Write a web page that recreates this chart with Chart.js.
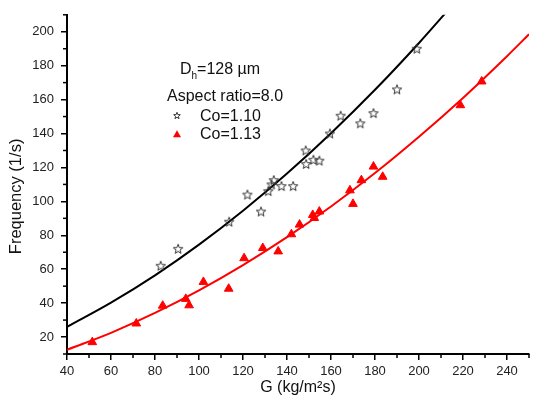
<!DOCTYPE html>
<html>
<head>
<meta charset="utf-8">
<script src="https://cdn.jsdelivr.net/npm/chart.js@4"></script>
<style>
  html, body { margin: 0; padding: 0; background: #fff; }
  #wrap { width: 535px; height: 408px; }
</style>
</head>
<body>
<div id="wrap"><canvas id="freqChart" width="535" height="408"></canvas></div>
<script>
// measured points, Co=1.10 (open stars)
const gCo110 = [82.6, 90.5, 113.7, 122, 128.2, 131.5, 133, 134, 137.5, 142.8, 148.5, 148.7, 152, 154.7, 159.5, 164.4, 173.3, 179.3, 190, 199];
const fCo110 = [62, 72, 88, 104, 94, 106, 110, 112.5, 109, 109, 130, 122, 124.5, 124, 140, 150.5, 146, 152, 166, 190];

// measured points, Co=1.13 (red triangles)
const gCo113 = [51.5, 71.5, 83.5, 94, 95.5, 102, 113.5, 120.5, 129, 136, 142, 145.7, 151.7, 152.4, 154.7, 168.6, 170, 173.8, 179.3, 183.5, 218.8, 228.5];
const fCo113 = [17, 28, 38.5, 42.5, 38.7, 52.5, 48.5, 66.5, 72.5, 70.5, 80.6, 86.3, 92, 90.2, 94, 106.5, 98.5, 112.5, 120.5, 114.5, 156.7, 170.7];

// fitted curves
const fitG110 = [40, 60, 80, 100, 120, 140, 160, 180, 200, 215];
const fitF110 = [26, 40.3, 56.4, 74.5, 94.5, 116.4, 140.2, 165.8, 193.4, 215.4];
const fitG113 = [40, 60, 80, 100, 120, 140, 160, 180, 200, 220, 240, 250];
const fitF113 = [12.5, 22.5, 34.2, 47.5, 62.4, 78.9, 97.0, 116.7, 138.1, 161.0, 185.6, 198.5];

const seriesNames = ['Co=1.10', 'Co=1.13'];

function zip(xs, ys) {
    return xs.map((x, i) => ({ x: x, y: ys[i] }));
}

function drawStar(c, cx, cy, r, lw) {
    c.beginPath();
    for (let i = 0; i < 10; i++) {
        const rad = i % 2 === 0 ? r : r * 0.42;
        const a = -Math.PI / 2 + i * Math.PI / 5;
        const px = cx + rad * Math.cos(a);
        const py = cy + rad * Math.sin(a);
        if (i === 0) c.moveTo(px, py); else c.lineTo(px, py);
    }
    c.closePath();
    c.lineWidth = lw;
    c.strokeStyle = '#333';
    c.stroke();
}

const starImg = document.createElement('canvas');
starImg.width = 12;
starImg.height = 12;
drawStar(starImg.getContext('2d'), 6, 6.4, 5, 1);

const FONT = '"Liberation Sans", Arial, sans-serif';

// minor ticks (every 10) drawn shorter than the major ones
const minorTicks = {
    id: 'minorTicks',
    afterDraw(chart) {
        const c = chart.ctx;
        const xs = chart.scales.x, ys = chart.scales.y;
        c.save();
        c.strokeStyle = '#000';
        c.lineWidth = 1.5;
        xs.ticks.forEach(t => {
            if (t.value % 20 !== 0) {
                const px = xs.getPixelForValue(t.value);
                c.beginPath();
                c.moveTo(px, xs.top);
                c.lineTo(px, xs.top + 4);
                c.stroke();
            }
        });
        ys.ticks.forEach(t => {
            if (t.value % 20 !== 0) {
                const py = ys.getPixelForValue(t.value);
                c.beginPath();
                c.moveTo(ys.right, py);
                c.lineTo(ys.right - 4, py);
                c.stroke();
            }
        });
        c.restore();
    }
};

// legend block in the upper left of the plot, plus the y title
const legendBlock = {
    id: 'legendBlock',
    afterDraw(chart) {
        const c = chart.ctx;
        const a = chart.chartArea;
        const x0 = a.left, y0 = a.top;
        c.save();
        c.fillStyle = '#111';
        c.textBaseline = 'alphabetic';
        c.font = '16px ' + FONT;
        c.fillText('D', x0 + 113, y0 + 59);
        const dw = c.measureText('D').width;
        c.font = '10px ' + FONT;
        c.fillText('h', x0 + 113 + dw, y0 + 64);
        const hw = c.measureText('h').width;
        c.font = '16px ' + FONT;
        c.fillText('=128 µm', x0 + 113 + dw + hw, y0 + 59);
        c.fillText('Aspect ratio=8.0', x0 + 100, y0 + 86);
        c.fillText(seriesNames[0], x0 + 133, y0 + 106);
        c.fillText(seriesNames[1], x0 + 133, y0 + 124);
        drawStar(c, x0 + 110, y0 + 101, 3.5, 1);
        c.fillStyle = '#ff0000';
        c.beginPath();
        c.moveTo(x0 + 110, y0 + 115.5);
        c.lineTo(x0 + 114, y0 + 122.5);
        c.lineTo(x0 + 106, y0 + 122.5);
        c.closePath();
        c.fill();

        // y axis title
        c.fillStyle = '#111';
        c.font = '16.5px ' + FONT;
        c.textAlign = 'center';
        c.textBaseline = 'middle';
        c.translate(16, (a.top + a.bottom) / 2 + 12);
        c.rotate(-Math.PI / 2);
        c.fillText('Frequency (1/s)', 0, 0);
        c.restore();
    }
};

const ctx = document.getElementById('freqChart').getContext('2d');

const freqChart = new Chart(ctx, {
    type: 'scatter',
    data: {
        datasets: [
            {
                label: 'fit Co=1.10',
                data: zip(fitG110, fitF110),
                showLine: true,
                borderColor: '#000',
                borderWidth: 2,
                pointRadius: 0,
                cubicInterpolationMode: 'monotone',
                order: 3
            },
            {
                label: 'fit Co=1.13',
                data: zip(fitG113, fitF113),
                showLine: true,
                borderColor: '#ff0000',
                borderWidth: 2,
                pointRadius: 0,
                cubicInterpolationMode: 'monotone',
                order: 4
            },
            {
                label: seriesNames[0],
                data: zip(gCo110, fCo110),
                pointStyle: starImg,
                pointRadius: 5,
                order: 1
            },
            {
                label: seriesNames[1],
                data: zip(gCo113, fCo113),
                pointStyle: 'triangle',
                pointRadius: 5,
                backgroundColor: '#ff0000',
                borderColor: '#ff0000',
                borderWidth: 1,
                order: 2
            }
        ]
    },
    options: {
        responsive: false,
        animation: false,
        layout: { padding: { top: 6, right: 0, bottom: 0, left: 0 } },
        plugins: {
            legend: { display: false },
            tooltip: { enabled: false }
        },
        scales: {
            x: {
                type: 'linear',
                min: 40,
                max: 250,
                afterFit(scale) { scale.height = 54; },
                border: { display: true, color: '#000', width: 2 },
                grid: {
                    drawOnChartArea: false,
                    drawTicks: true,
                    tickLength: 6,
                    lineWidth: 1.5,
                    color: c => (c.tick && c.tick.value % 20 === 0) ? '#000' : 'rgba(0,0,0,0)'
                },
                ticks: {
                    stepSize: 10,
                    autoSkip: false,
                    maxRotation: 0,
                    padding: 4,
                    color: '#222',
                    font: { family: FONT, size: 13 },
                    callback: v => (v % 20 === 0 && v <= 240) ? v : ''
                },
                title: {
                    display: true,
                    text: 'G (kg/m²s)',
                    color: '#111',
                    font: { family: FONT, size: 16 },
                    padding: { top: 0, bottom: 11 }
                }
            },
            y: {
                type: 'linear',
                min: 10,
                max: 210,
                afterFit(scale) { scale.width = 67; },
                border: { display: true, color: '#000', width: 2 },
                grid: {
                    drawOnChartArea: false,
                    drawTicks: true,
                    tickLength: 6,
                    lineWidth: 1.5,
                    color: c => (c.tick && c.tick.value % 20 === 0) ? '#000' : 'rgba(0,0,0,0)'
                },
                ticks: {
                    stepSize: 10,
                    autoSkip: false,
                    padding: 7,
                    color: '#222',
                    font: { family: FONT, size: 13 },
                    callback: v => (v % 20 === 0 && v <= 200) ? v : ''
                },
                title: { display: false }
            }
        }
    },
    plugins: [minorTicks, legendBlock]
});
</script>
</body>
</html>
